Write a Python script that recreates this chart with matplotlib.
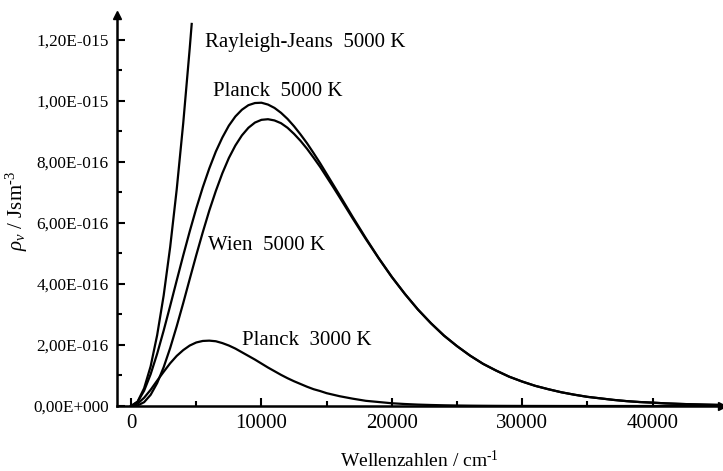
import matplotlib
matplotlib.use('Agg')
import matplotlib.pyplot as plt
from matplotlib.ticker import FixedLocator, FixedFormatter

plt.rcParams['font.family'] = ['Liberation Serif', 'DejaVu Serif']
plt.rcParams['mathtext.fontset'] = 'custom'
plt.rcParams['mathtext.rm'] = 'Liberation Serif'
plt.rcParams['mathtext.it'] = 'Liberation Serif:italic'

# wavenumbers in cm^-1, energy density in units of 1e-16 J s m^-3
wn = [0, 500, 1000, 1500, 2000, 2500, 3000, 3500, 4000, 4500, 5000, 5500,
      6000, 6500, 7000, 7500, 8000, 8500, 9000, 9500, 10000, 10500, 11000,
      11500, 12000, 12500, 13000, 13500, 14000, 14500, 15000, 15500, 16000,
      17000, 18000, 19000, 20000, 21000, 22000, 23000, 24000, 25000, 26000,
      27000, 28000, 29000, 30000, 31000, 32000, 33000, 34000, 35000, 36000,
      37000, 38000, 39000, 40000, 41000, 42000, 43000, 44000, 45000]
planck_5000 = [0, 0.134, 0.50, 1.04, 1.71, 2.47, 3.28, 4.11, 4.93, 5.72, 6.47, 7.16,
               7.78, 8.33, 8.79, 9.18, 9.48, 9.70, 9.85, 9.92, 9.93, 9.87, 9.76,
               9.60, 9.40, 9.16, 8.89, 8.60, 8.28, 7.95, 7.60, 7.25, 6.90,
               6.19, 5.50, 4.84, 4.23, 3.67, 3.16, 2.71, 2.31, 1.96, 1.65,
               1.38, 1.16, 0.96, 0.80, 0.66, 0.55, 0.45, 0.37, 0.30, 0.25,
               0.20, 0.16, 0.13, 0.11, 0.086, 0.070, 0.056, 0.045, 0.036]
wien_5000 = [0, 0.018, 0.125, 0.365, 0.75, 1.27, 1.90, 2.61, 3.37, 4.16, 4.94, 5.69,
             6.40, 7.04, 7.62, 8.12, 8.53, 8.86, 9.11, 9.28, 9.37, 9.39, 9.35,
             9.26, 9.11, 8.91, 8.68, 8.42, 8.13, 7.83, 7.50, 7.17, 6.83,
             6.14, 5.47, 4.83, 4.22, 3.67, 3.16, 2.71, 2.30, 1.96, 1.65,
             1.38, 1.16, 0.96, 0.80, 0.66, 0.55, 0.45, 0.37, 0.30, 0.25,
             0.20, 0.16, 0.13, 0.11, 0.086, 0.070, 0.056, 0.045, 0.036]
planck_3000 = [0, 0.077, 0.27, 0.53, 0.83, 1.12, 1.40, 1.64, 1.83, 1.98, 2.08, 2.13,
               2.14, 2.12, 2.06, 1.98, 1.88, 1.76, 1.64, 1.52, 1.39, 1.26, 1.14,
               1.02, 0.91, 0.81, 0.72, 0.63, 0.55, 0.49, 0.42, 0.37, 0.32,
               0.24, 0.17, 0.13, 0.09, 0.065, 0.046, 0.033, 0.023, 0.016, 0.011,
               0.0075, 0.005, 0.0035, 0.0025, 0.0017, 0.001, 0, 0, 0, 0,
               0, 0, 0, 0, 0, 0, 0, 0, 0]
wn_rj = [0, 500, 1000, 1500, 2000, 2500, 3000, 3500, 4000, 4500, 4650]
rj_5000 = [0, 0.145, 0.58, 1.30, 2.32, 3.62, 5.21, 7.09, 9.26, 11.72, 12.51]

yticks = [0, 2, 4, 6, 8, 10, 12]
ylabels = ['0,00E+000', '2,00E-016', '4,00E-016', '6,00E-016',
           '8,00E-016', '1,00E-015', '1,20E-015']
xticks = [0, 10000, 20000, 30000, 40000]

fig = plt.figure(figsize=(7.23, 4.71), dpi=100)
ax = fig.add_axes([0.162, 0.138, 0.836, 0.83])

lw = 1.6
ax.plot(wn, planck_5000, color='black', lw=lw)
ax.plot(wn, wien_5000, color='black', lw=lw)
ax.plot(wn, planck_3000, color='black', lw=lw)
ax.plot(wn_rj, rj_5000, color='black', lw=lw)

ax.set_xlim(-1070, 45290)
ax.set_ylim(0, 12.8)

for s in ['top', 'right']:
    ax.spines[s].set_visible(False)
for s in ['left', 'bottom']:
    ax.spines[s].set_linewidth(1.8)

# arrow heads at the ends of the axes
ax.plot(1, 0, '>', color='black', ms=6, transform=ax.transAxes, clip_on=False)
ax.plot(0, 1, '^', color='black', ms=6, transform=ax.transAxes, clip_on=False)

ax.yaxis.set_major_locator(FixedLocator(yticks))
ax.yaxis.set_major_formatter(FixedFormatter(ylabels))
ax.yaxis.set_minor_locator(FixedLocator([1, 3, 5, 7, 9, 11]))
ax.xaxis.set_major_locator(FixedLocator(xticks))
ax.xaxis.set_minor_locator(FixedLocator([5000, 15000, 25000, 35000]))

ax.tick_params(axis='both', which='major', direction='in', length=6, width=1.5)
ax.tick_params(axis='both', which='minor', direction='in', length=3.5, width=1.5)
ax.tick_params(axis='y', which='major', labelsize=12.4, pad=6)
ax.tick_params(axis='x', which='major', labelsize=15, pad=6)

ax.set_xlabel('Wellenzahlen / cm$^{\u20101}$', fontsize=14, labelpad=12)
ax.set_ylabel('$\\rho_\\nu$ / Jsm$^{\u20103}$', fontsize=15, labelpad=2)

ax.text(5670, 11.9, 'Rayleigh-Jeans  5000 K', fontsize=15, va='center')
ax.text(6284, 10.3, 'Planck  5000 K', fontsize=15, va='center')
ax.text(5900, 5.25, 'Wien  5000 K', fontsize=15, va='center')
ax.text(8506, 2.16, 'Planck  3000 K', fontsize=15, va='center')

fig.savefig('out.png', dpi=100)
